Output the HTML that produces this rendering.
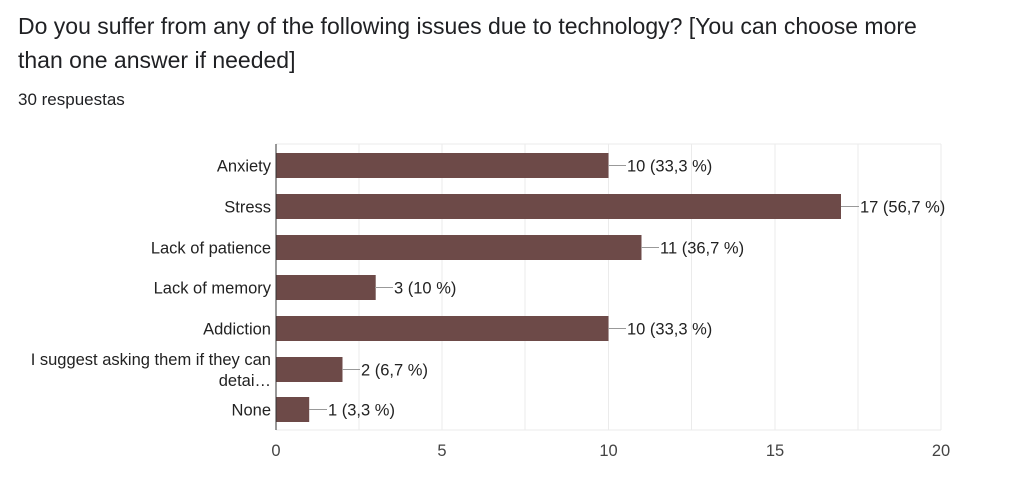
<!DOCTYPE html><html><head><style>body{margin:0;background:#fff;width:1022px;height:483px;overflow:hidden;font-family:"Liberation Sans",Arial,sans-serif}</style></head><body>
<div style="position:absolute;left:18px;top:9px;font-size:23px;line-height:34px;color:#202124;width:940px">Do you suffer from any of the following issues due to technology? [You can choose more than one answer if needed]</div>
<div style="position:absolute;left:18px;top:90px;font-size:17px;color:#202124">30 respuestas</div>
<svg width="1022" height="483" style="position:absolute;left:0;top:0" font-family="Liberation Sans,Arial,sans-serif" font-size="16.5" fill="#222">
<g stroke="#ebebeb" stroke-width="1">
<line x1="359" y1="144" x2="359" y2="430"/><line x1="442" y1="144" x2="442" y2="430"/><line x1="525" y1="144" x2="525" y2="430"/><line x1="608.5" y1="144" x2="608.5" y2="430"/><line x1="691.5" y1="144" x2="691.5" y2="430"/><line x1="775" y1="144" x2="775" y2="430"/><line x1="858" y1="144" x2="858" y2="430"/><line x1="941" y1="144" x2="941" y2="430"/>
<line x1="276" y1="144" x2="941" y2="144"/><line x1="276" y1="430" x2="941" y2="430"/>
</g>
<g fill="#6d4a48">
<rect x="276" y="153" width="332.5" height="25"/><rect x="276" y="194" width="565" height="25"/><rect x="276" y="235" width="365.5" height="25"/><rect x="276" y="275" width="99.7" height="25"/><rect x="276" y="316" width="332.5" height="25"/><rect x="276" y="357" width="66.5" height="25"/><rect x="276" y="397" width="33.2" height="25"/>
</g>
<line x1="276" y1="144" x2="276" y2="430" stroke="#333"/>
<g stroke="#999"><line x1="608" y1="165.5" x2="626" y2="165.5"/><line x1="841" y1="206.5" x2="859" y2="206.5"/><line x1="641" y1="247.5" x2="659" y2="247.5"/><line x1="375" y1="287.5" x2="393" y2="287.5"/><line x1="608" y1="328.5" x2="626" y2="328.5"/><line x1="342" y1="369.5" x2="360" y2="369.5"/><line x1="309" y1="409.5" x2="327" y2="409.5"/></g>
<g><text x="627" y="171.5">10 (33,3 %)</text><text x="860" y="212.5">17 (56,7 %)</text><text x="660" y="253.5">11 (36,7 %)</text><text x="394" y="293.5">3 (10 %)</text><text x="627" y="334.5">10 (33,3 %)</text><text x="361" y="375.5">2 (6,7 %)</text><text x="328" y="415.5">1 (3,3 %)</text></g>
<g text-anchor="end"><text x="271" y="171.5">Anxiety</text><text x="271" y="212.5">Stress</text><text x="271" y="253.5">Lack of patience</text><text x="271" y="293.5">Lack of memory</text><text x="271" y="334.5">Addiction</text><text x="271" y="365">I suggest asking them if they can</text><text x="271" y="386">detai…</text><text x="271" y="415.5">None</text></g>
<g text-anchor="middle" fill="#444"><text x="276" y="456">0</text><text x="442" y="456">5</text><text x="608.5" y="456">10</text><text x="775" y="456">15</text><text x="941" y="456">20</text></g>
</svg></body></html>
